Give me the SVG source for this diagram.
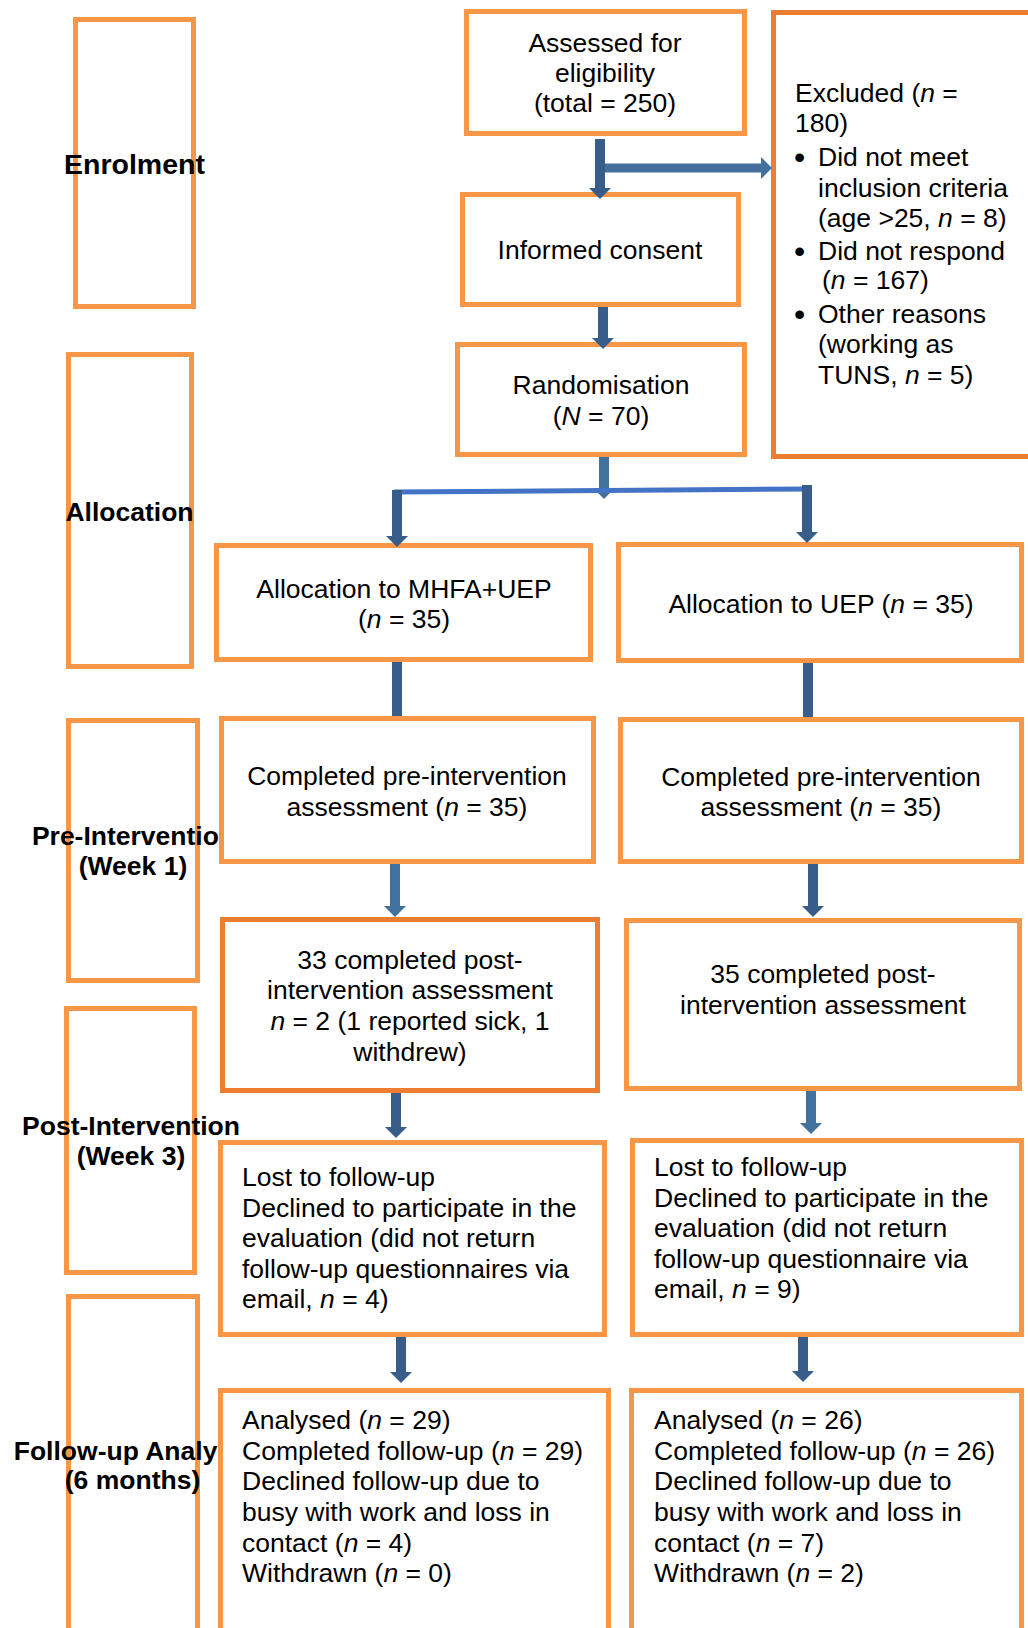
<svg xmlns="http://www.w3.org/2000/svg" width="1028" height="1628" viewBox="0 0 1028 1628">
<style>
text{font-family:"Liberation Sans",Arial,sans-serif;font-size:26.5px;fill:#000}
.lab{font-weight:bold}
.c{text-anchor:middle}
.i{font-style:italic}
.bul{font-size:32px}
.box{fill:#fff;stroke:#F79646;stroke-width:5}
.box2{fill:#fff;stroke:#ED7D31;stroke-width:5}
.lbox{fill:none;stroke:#F79646;stroke-width:5}
.dk{stroke:#385D8A;stroke-width:10;fill:none}
.md{stroke:#41719C;stroke-width:10;fill:none}
.sp{stroke:#4472C4;stroke-width:5;fill:none}
</style>
<defs>
<marker id="ad" markerUnits="userSpaceOnUse" viewBox="0 0 11 22" markerWidth="11" markerHeight="22" refX="0" refY="11" orient="auto"><path d="M0,0 L11,11 L0,22 Z" fill="#385D8A"/></marker>
<marker id="am" markerUnits="userSpaceOnUse" viewBox="0 0 11 22" markerWidth="11" markerHeight="22" refX="0" refY="11" orient="auto"><path d="M0,0 L11,11 L0,22 Z" fill="#41719C"/></marker>
</defs>
<rect width="1028" height="1628" fill="#fff"/>

<g id="stage-enrolment">
<rect class="lbox" x="75.5" y="19.5" width="118" height="287"/>
<text class="lab c" x="134.5" y="174" style="font-size:28.5px">Enrolment</text>
</g>
<g id="stage-allocation">
<rect class="lbox" x="68.5" y="354.5" width="123" height="312"/>
<text class="lab c" x="129.5" y="521">Allocation</text>
</g>
<g id="stage-pre">
<rect class="lbox" x="68.5" y="720.5" width="129" height="260"/>
<text class="lab c" x="133.5" y="845">Pre-Intervention</text>
<text class="lab c" x="133" y="875">(Week 1)</text>
</g>
<g id="stage-post">
<rect class="lbox" x="66.5" y="1008.5" width="128" height="264"/>
<text class="lab c" x="131" y="1135">Post-Intervention</text>
<text class="lab c" x="131" y="1165">(Week 3)</text>
</g>
<g id="stage-followup">
<rect class="lbox" x="68.5" y="1296.5" width="129" height="400"/>
<text class="lab c" x="134" y="1460">Follow-up Analysis</text>
<text class="lab c" x="132.5" y="1489">(6 months)</text>
</g>

<g id="assessed">
<rect class="box" x="466.5" y="11.5" width="278" height="122"/>
<text class="c" x="605" y="52">Assessed for</text>
<text class="c" x="605" y="82">eligibility</text>
<text class="c" x="605" y="112">(total = 250)</text>
</g>
<g id="consent">
<rect class="box" x="462.5" y="194.5" width="276" height="110"/>
<text class="c" x="600" y="259">Informed consent</text>
</g>
<g id="randomisation">
<rect class="box" x="457.5" y="344.5" width="287" height="110"/>
<text class="c" x="601" y="394">Randomisation</text>
<text class="c" x="601" y="425">(<tspan class="i">N</tspan> = 70)</text>
</g>
<g id="excluded">
<rect class="box2" x="773.5" y="12.5" width="270" height="444"/>
<text x="795" y="102">Excluded (<tspan class="i">n</tspan> =</text>
<text x="795" y="132">180)</text>
<text class="bul" x="794" y="168">•</text>
<text x="818" y="166">Did not meet</text>
<text x="818" y="197">inclusion criteria</text>
<text x="818" y="227">(age &gt;25, <tspan class="i">n</tspan> = 8)</text>
<text class="bul" x="794" y="262">•</text>
<text x="818" y="260">Did not respond</text>
<text x="822" y="289">(<tspan class="i">n</tspan> = 167)</text>
<text class="bul" x="794" y="325">•</text>
<text x="818" y="323">Other reasons</text>
<text x="818" y="353">(working as</text>
<text x="818" y="384">TUNS, <tspan class="i">n</tspan> = 5)</text>
</g>

<g id="alloc-mhfa">
<rect class="box" x="216.5" y="545.5" width="374" height="114"/>
<text class="c" x="404" y="598">Allocation to MHFA+UEP</text>
<text class="c" x="404" y="628">(<tspan class="i">n</tspan> = 35)</text>
</g>
<g id="alloc-uep">
<rect class="box" x="618.5" y="544.5" width="403" height="116"/>
<text class="c" x="821" y="613">Allocation to UEP (<tspan class="i">n</tspan> = 35)</text>
</g>
<g id="pre-mhfa">
<rect class="box" x="221.5" y="718.5" width="372" height="143"/>
<text class="c" x="407" y="785">Completed pre-intervention</text>
<text class="c" x="407" y="816">assessment (<tspan class="i">n</tspan> = 35)</text>
</g>
<g id="pre-uep">
<rect class="box" x="620.5" y="719.5" width="401" height="142"/>
<text class="c" x="821" y="786">Completed pre-intervention</text>
<text class="c" x="821" y="816">assessment (<tspan class="i">n</tspan> = 35)</text>
</g>
<g id="post-mhfa">
<rect class="box2" x="222.5" y="919.5" width="375" height="171"/>
<text class="c" x="410" y="969">33 completed post-</text>
<text class="c" x="410" y="999">intervention assessment</text>
<text class="c" x="410" y="1030"><tspan class="i">n</tspan> = 2 (1 reported sick, 1</text>
<text class="c" x="410" y="1061">withdrew)</text>
</g>
<g id="post-uep">
<rect class="box" x="626.5" y="920.5" width="393" height="168"/>
<text class="c" x="823" y="983">35 completed post-</text>
<text class="c" x="823" y="1014">intervention assessment</text>
</g>
<g id="lost-mhfa">
<rect class="box" x="220.5" y="1142.5" width="384" height="192"/>
<text x="242" y="1186">Lost to follow-up</text>
<text x="242" y="1217">Declined to participate in the</text>
<text x="242" y="1247">evaluation (did not return</text>
<text x="242" y="1278">follow-up questionnaires via</text>
<text x="242" y="1308">email, <tspan class="i">n</tspan> = 4)</text>
</g>
<g id="lost-uep">
<rect class="box" x="632.5" y="1140.5" width="389" height="194"/>
<text x="654" y="1176">Lost to follow-up</text>
<text x="654" y="1207">Declined to participate in the</text>
<text x="654" y="1237">evaluation (did not return</text>
<text x="654" y="1268">follow-up questionnaire via</text>
<text x="654" y="1298">email, <tspan class="i">n</tspan> = 9)</text>
</g>
<g id="analysed-mhfa">
<rect class="box" x="220.5" y="1390.5" width="388" height="300"/>
<text x="242" y="1429">Analysed (<tspan class="i">n</tspan> = 29)</text>
<text x="242" y="1460">Completed follow-up (<tspan class="i">n</tspan> = 29)</text>
<text x="242" y="1490">Declined follow-up due to</text>
<text x="242" y="1521">busy with work and loss in</text>
<text x="242" y="1552">contact (<tspan class="i">n</tspan> = 4)</text>
<text x="242" y="1582">Withdrawn (<tspan class="i">n</tspan> = 0)</text>
</g>
<g id="analysed-uep">
<rect class="box" x="631.5" y="1390.5" width="390" height="300"/>
<text x="654" y="1429">Analysed (<tspan class="i">n</tspan> = 26)</text>
<text x="654" y="1460">Completed follow-up (<tspan class="i">n</tspan> = 26)</text>
<text x="654" y="1490">Declined follow-up due to</text>
<text x="654" y="1521">busy with work and loss in</text>
<text x="654" y="1552">contact (<tspan class="i">n</tspan> = 7)</text>
<text x="654" y="1582">Withdrawn (<tspan class="i">n</tspan> = 2)</text>
</g>

<g id="connectors">
<path class="dk" d="M600,139 V188" marker-end="url(#ad)"/>
<path class="md" d="M605,168 H761" style="stroke-width:9" marker-end="url(#am)"/>
<path class="dk" d="M603,307 V338" marker-end="url(#ad)"/>
<path class="md" d="M604,457 V488" marker-end="url(#am)"/>
<path class="sp" d="M394,492 L812,489"/>
<path class="dk" d="M397,490 V536" marker-end="url(#ad)"/>
<path class="dk" d="M807,485 V532" marker-end="url(#ad)"/>
<path class="dk" d="M397,662 V716"/>
<path class="dk" d="M808,663 V717"/>
<path class="md" d="M395,864 V906" marker-end="url(#am)"/>
<path class="dk" d="M813,864 V906" marker-end="url(#ad)"/>
<path class="dk" d="M396,1093 V1127" marker-end="url(#ad)"/>
<path class="md" d="M811,1091 V1123" marker-end="url(#am)"/>
<path class="dk" d="M401,1337 V1372" marker-end="url(#ad)"/>
<path class="dk" d="M803,1337 V1371" marker-end="url(#ad)"/>
</g>
</svg>
